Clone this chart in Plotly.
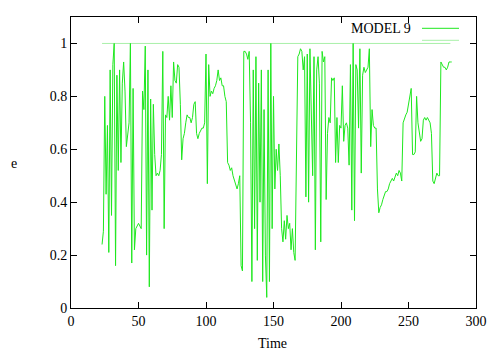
import plotly.graph_objects as go

# Time axis (one sample per time unit) and the e series
time = list(range(23, 283))
e_values = [
    0.24, 0.29, 0.80, 0.43, 0.69, 0.21, 0.90, 0.35, 0.92, 1.00,
    0.16, 0.88, 0.52, 0.90, 0.55, 0.85, 0.93, 0.82, 0.61, 0.66,
    0.70, 1.00, 0.17, 0.83, 0.22, 0.30, 0.31, 0.32, 0.31, 0.30,
    0.82, 0.75, 0.99, 0.20, 0.90, 0.08, 0.79, 0.37, 0.77, 0.58,
    0.50, 0.51, 0.50, 0.52, 0.58, 0.97, 0.30, 0.73, 0.72, 0.80,
    0.71, 0.84, 0.72, 0.93, 0.86, 0.85, 0.92, 0.91, 0.77, 0.56,
    0.64, 0.66, 0.70, 0.73, 0.72, 0.72, 0.70, 0.72, 0.77, 0.78,
    0.66, 0.64, 0.66, 0.67, 0.68, 0.68, 0.70, 0.96, 0.47, 0.92,
    0.80, 0.82, 0.81, 0.83, 0.84, 0.86, 0.90, 0.86, 0.87, 0.84,
    0.84, 0.80, 0.78, 0.55, 0.54, 0.52, 0.53, 0.50, 0.48, 0.46,
    0.45, 0.47, 0.50, 0.16, 0.14, 0.97, 0.97, 0.96, 0.94, 0.97,
    0.70, 0.10, 0.90, 0.30, 0.95, 0.18, 0.85, 0.40, 0.90, 0.10,
    0.75, 0.20, 0.04, 0.90, 0.10, 1.00, 0.30, 0.80, 0.45, 0.60,
    0.52, 0.62, 0.50, 0.30, 0.25, 0.33, 0.26, 0.35, 0.30, 0.32,
    0.22, 0.30, 0.21, 0.18, 0.55, 0.95, 0.96, 0.98, 0.97, 0.90,
    0.95, 0.42, 0.96, 0.40, 0.98, 0.65, 0.50, 0.95, 0.22, 0.90,
    0.95, 0.85, 0.25, 0.97, 0.93, 0.95, 0.41, 0.66, 0.72, 0.70,
    0.87, 0.86, 0.87, 0.55, 0.72, 0.55, 0.69, 0.68, 0.84, 0.63,
    0.69, 0.70, 0.68, 0.54, 0.92, 0.37, 1.00, 0.33, 0.92, 0.90,
    0.68, 0.98, 0.51, 0.88, 0.91, 0.89, 0.90, 0.91, 0.98, 0.61,
    0.75, 0.69, 0.68, 0.68, 0.45, 0.36, 0.38, 0.39, 0.41, 0.43,
    0.44, 0.44, 0.45, 0.47, 0.48, 0.49, 0.48, 0.50, 0.51, 0.50,
    0.52, 0.51, 0.48, 0.70, 0.72, 0.73, 0.74, 0.77, 0.80, 0.83,
    0.58, 0.58, 0.59, 0.80, 0.70, 0.66, 0.63, 0.64, 0.71, 0.72,
    0.71, 0.72, 0.71, 0.70, 0.66, 0.48, 0.47, 0.49, 0.51, 0.50,
    0.50, 0.93, 0.92, 0.91, 0.91, 0.90, 0.91, 0.93, 0.93, 0.93,
]

# Second series: constant reference line at e = 1
ref_time = [23, 281]
ref_values = [1, 1]

x_ticks = [0, 50, 100, 150, 200, 250, 300]
y_ticks = [0, 0.2, 0.4, 0.6, 0.8, 1]
y_tick_labels = ["0", "0.2", "0.4", "0.6", "0.8", "1"]

main_color = "#1ee81e"
ref_color = "#a8f0a8"
font_family = "Liberation Serif, Times New Roman, serif"

fig = go.Figure()
fig.add_trace(go.Scatter(x=ref_time, y=ref_values, mode="lines",
                         line=dict(color=ref_color, width=1), showlegend=False))
fig.add_trace(go.Scatter(x=time, y=e_values, mode="lines", name="MODEL 9",
                         line=dict(color=main_color, width=1), showlegend=False))

axis_common = dict(showline=True, linecolor="black", linewidth=1, mirror="allticks",
                   ticks="inside", ticklen=6, tickcolor="black", tickwidth=1,
                   showgrid=False, zeroline=False,
                   tickfont=dict(family=font_family, size=14, color="black"))

# The page body has an 8px margin, so the figure is offset by (8, 8)
fig.update_layout(
    width=492, height=342,
    margin=dict(l=63, r=24, t=9, b=42),
    paper_bgcolor="white", plot_bgcolor="white",
    font=dict(family=font_family, size=14, color="black"),
    xaxis=dict(range=[0, 300], tickvals=x_ticks, **axis_common),
    yaxis=dict(range=[0, 1.1], tickvals=y_ticks, ticktext=y_tick_labels, **axis_common),
    showlegend=False,
)

# Plot area in window pixels: x 71..476, y 17..308
def px_to_paper_x(px):
    return (px - 71) / 405.0

def py_to_paper_y(py):
    return (308 - py) / 291.0

# Axis titles (gnuplot style: y title horizontal)
fig.add_annotation(text="Time", xref="paper", yref="paper",
                   x=px_to_paper_x(272), y=py_to_paper_y(343),
                   xanchor="center", yanchor="middle", showarrow=False,
                   font=dict(family=font_family, size=14))
fig.add_annotation(text="e", xref="paper", yref="paper",
                   x=px_to_paper_x(14), y=py_to_paper_y(163),
                   xanchor="center", yanchor="middle", showarrow=False,
                   font=dict(family=font_family, size=14))

# Legend drawn gnuplot style: text then sample line, inside top-right
fig.add_annotation(text="MODEL 9", xref="paper", yref="paper",
                   x=px_to_paper_x(413), y=py_to_paper_y(28.5),
                   xanchor="right", yanchor="middle", showarrow=False,
                   font=dict(family=font_family, size=14))
fig.add_shape(type="line", xref="paper", yref="paper",
              x0=px_to_paper_x(422), x1=px_to_paper_x(459),
              y0=py_to_paper_y(28.3), y1=py_to_paper_y(28.3),
              line=dict(color=main_color, width=1))
fig.add_shape(type="line", xref="paper", yref="paper",
              x0=px_to_paper_x(422), x1=px_to_paper_x(459),
              y0=py_to_paper_y(40.3), y1=py_to_paper_y(40.3),
              line=dict(color=ref_color, width=1))

fig.write_html("out.html")
